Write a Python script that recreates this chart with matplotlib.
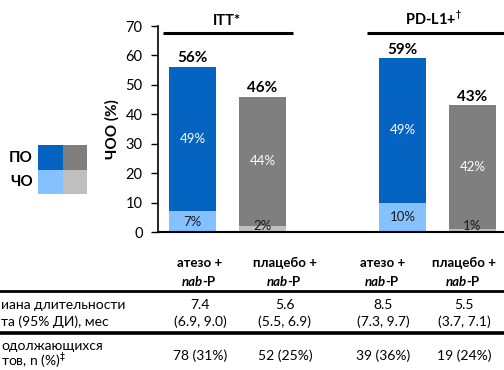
import matplotlib.pyplot as plt

plt.rcParams['font.family'] = ['Lato', 'Noto Sans', 'DejaVu Sans']

# data
groups = ['ITT*', 'PD-L1+$^{\u2020}$']
arms = ['атезо +', 'плацебо +', 'атезо +', 'плацебо +']
total = [56, 46, 59, 43]     # ЧОО
cr = [7, 2, 10, 1]           # ПО... lower part (ЧО)
pr = [49, 44, 49, 42]        # upper part
median_dor = ['7.4', '5.6', '8.5', '5.5']
median_ci = ['(6.9, 9.0)', '(5.5, 6.9)', '(7.3, 9.7)', '(3.7, 7.1)']
ongoing = ['78 (31%)', '52 (25%)', '39 (36%)', '19 (24%)']
row_labels = [['иана длительности', 'та (95% ДИ), мес'],
              ['одолжающихся', 'тов, n (%)$^{\u2021}$']]

x = [0, 1, 3, 4]
dark = ['#0563C1', '#7F7F7F', '#0563C1', '#7F7F7F']
light = ['#85C0FF', '#BFBFBF', '#85C0FF', '#BFBFBF']

W, H = 504, 370
fig = plt.figure(figsize=(W / 100, H / 100), dpi=100)
ax = fig.add_axes([158 / W, 1 - 232 / H, 1 - 158 / W, (232 - 26) / H])

ax.bar(x, cr, width=0.67, color=light, linewidth=0)
ax.bar(x, pr, bottom=cr, width=0.67, color=dark, linewidth=0)

for xi, t, c, p in zip(x, total, cr, pr):
    ax.text(xi, t + 0.6, f'{t}%', ha='center', va='bottom',
            fontsize=11, fontweight='bold', color='black')
    ax.text(xi, c + p / 2, f'{p}%', ha='center', va='center',
            fontsize=9.5, color='white')
    ax.text(xi, max(c / 2, 1.9), f'{c}%', ha='center', va='center',
            fontsize=9.5, color='#1a1a1a')

ax.set_xlim(-0.493, 4.45)
ax.set_ylim(0, 70)
ax.set_yticks(range(0, 71, 10))
ax.set_xticks([])
ax.tick_params(axis='y', labelsize=10.5, length=5, width=1, pad=6)
for side in ['top', 'right']:
    ax.spines[side].set_visible(False)
ax.spines['left'].set_linewidth(1.2)
ax.spines['bottom'].set_linewidth(1.5)
ax.set_ylabel('ЧОО (%)', fontsize=11, fontweight='bold', labelpad=4)

# group headers
ax.plot([-0.42, 1.436], [67.6, 67.6], color='black', lw=2.2,
        clip_on=False, solid_capstyle='butt')
ax.plot([2.49, 4.45], [67.6, 67.6], color='black', lw=2.2,
        clip_on=False, solid_capstyle='butt')
ax.text(0.49, 69.2, groups[0], ha='center', va='bottom',
        fontsize=10.5, fontweight='bold')
ax.text(3.44, 69.2, groups[1], ha='center', va='bottom',
        fontsize=10.5, fontweight='bold')

# legend squares
def px(xp, yp):
    return xp / W, 1 - yp / H

cell = 24.5
for i, cols in enumerate([(dark[0], dark[1]), (light[0], light[1])]):
    for j, col in enumerate(cols):
        fx, fy = px(38 + j * cell, 145 + (i + 1) * cell)
        fig.patches.append(plt.Rectangle((fx, fy), cell / W, cell / H,
                                         transform=fig.transFigure,
                                         color=col, linewidth=0))
fig.text(*px(33, 158), 'ПО', ha='right', va='center',
         fontsize=11, fontweight='bold')
fig.text(*px(33, 182), 'ЧО', ha='right', va='center',
         fontsize=11, fontweight='bold')

# table
col_x = [200, 285, 383, 464]
for cx, arm, m, ci, og in zip(col_x, arms, median_dor, median_ci, ongoing):
    fig.text(*px(cx, 263), arm, ha='center', va='center',
             fontsize=9.5, fontweight='bold')
    fig.text(*px(cx + 3, 282), 'nab', ha='right', va='center',
             fontsize=9.5, fontweight='bold', fontstyle='italic')
    fig.text(*px(cx + 2, 282), '-P', ha='left', va='center',
             fontsize=9.5, fontweight='bold')
    fig.text(*px(cx, 305), m, ha='center', va='center', fontsize=10)
    fig.text(*px(cx, 322), ci, ha='center', va='center', fontsize=10)
    fig.text(*px(cx, 356), og, ha='center', va='center', fontsize=10)

fig.text(*px(1, 305), row_labels[0][0], ha='left', va='center', fontsize=10)
fig.text(*px(1, 322), row_labels[0][1], ha='left', va='center', fontsize=10)
fig.text(*px(1, 346), row_labels[1][0], ha='left', va='center', fontsize=10)
fig.text(*px(1, 361), row_labels[1][1], ha='left', va='center', fontsize=10)

for yl, lw in [(291, 2.0), (333, 2.6)]:
    fig.add_artist(plt.Line2D([0, 1], [1 - yl / H] * 2, color='black',
                              lw=lw, transform=fig.transFigure))

fig.savefig('out.png', dpi=100)
